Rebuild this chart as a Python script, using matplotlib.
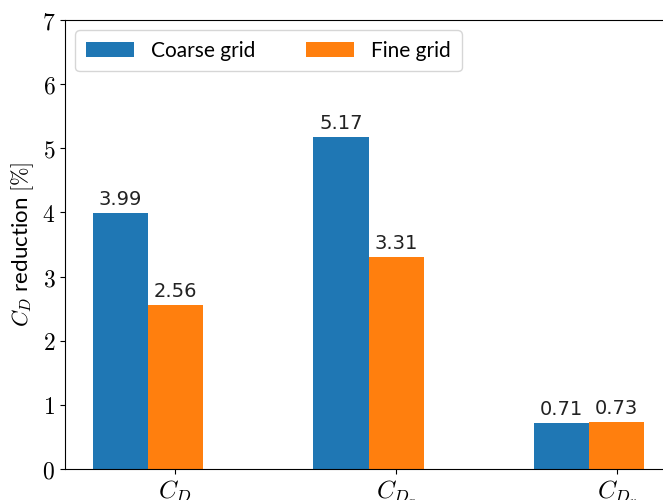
import matplotlib
matplotlib.use("Agg")
import matplotlib.pyplot as plt
import numpy as np

categories = [r"$C_D$", r"$C_{D_p}$", r"$C_{D_v}$"]
coarse = [3.99, 5.17, 0.71]
fine = [2.56, 3.31, 0.73]
series_names = ["Coarse grid", "Fine grid"]
yticks = [0, 1, 2, 3, 4, 5, 6, 7]

plt.rcParams["mathtext.fontset"] = "cm"

W, H = 663, 500
fig = plt.figure(figsize=(W / 100, H / 100), dpi=100)
ax = fig.add_axes([65 / W, 31 / H, 607 / W, 449 / H])

x = np.arange(len(categories))
w = 0.25
b1 = ax.bar(x - w, coarse, width=w, color="#1f77b4", label=series_names[0])
b2 = ax.bar(x, fine, width=w, color="#ff7f0e", label=series_names[1])

for bars, vals in ((b1, coarse), (b2, fine)):
    for r, v in zip(bars, vals):
        ax.annotate(f"{v:.2f}", (r.get_x() + r.get_width() / 2, v),
                    xytext=(0, 3), textcoords="offset points",
                    ha="center", va="bottom", fontsize=14,
                    family="DejaVu Sans", color="#222222")

ax.set_xlim(-0.5, 2.25)
ax.set_ylim(0, 7)
ax.set_xticks(x)
ax.set_xticklabels(categories, fontsize=18)
ax.set_yticks(yticks)
ax.set_yticklabels([f"${t}$" for t in yticks], fontsize=17)

ax.set_ylabel(r"$C_D$ reduction $[\%]$", fontsize=16, family="Lato")
ax.yaxis.set_label_coords(-0.047, 0.5)

leg = ax.legend(loc="upper left", ncol=2,
                prop={"family": "Lato", "size": 15},
                handlelength=2.3, handleheight=0.75, handletextpad=0.85,
                columnspacing=2.4, borderpad=0.5, framealpha=0.8,
                fancybox=True)

fig.savefig("out.png", dpi=100)
